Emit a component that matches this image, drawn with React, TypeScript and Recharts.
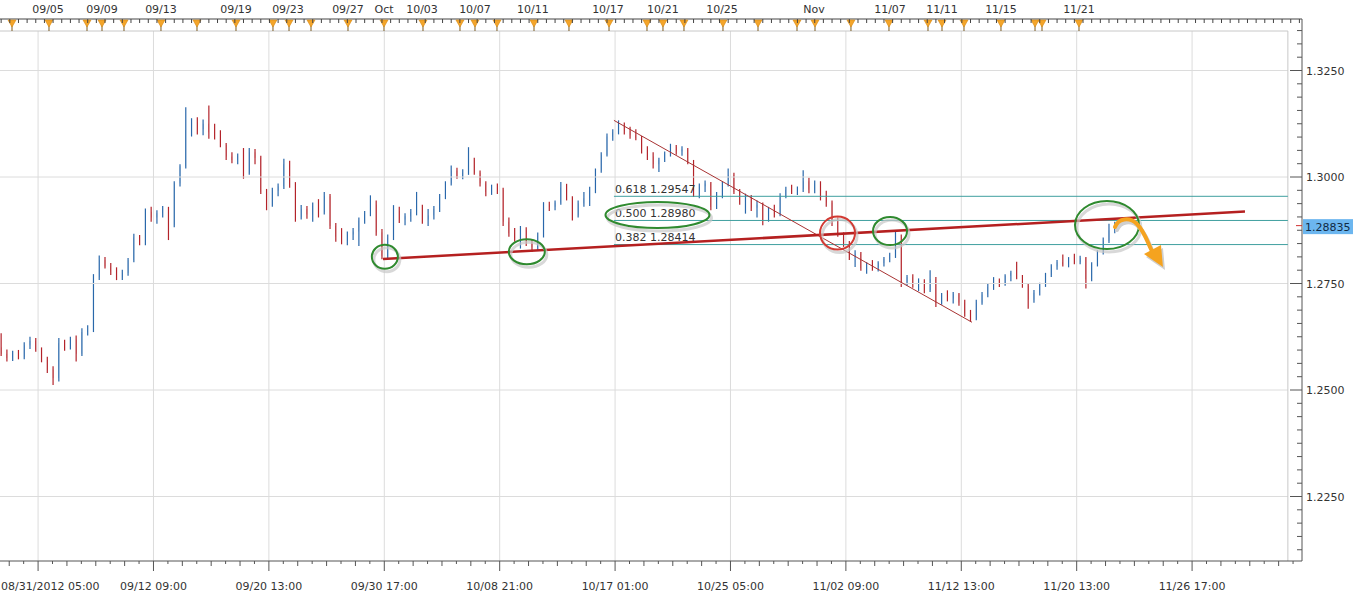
import React from "react";
import { Bar, ComposedChart, ReferenceDot, ReferenceLine, Scatter, XAxis, YAxis } from "recharts";

// one bar = [open, high, low, close]
const septemberBars: number[][] = [
  [1.2600, 1.2633, 1.2580, 1.2585], [1.2585, 1.2595, 1.2567, 1.2575], [1.2575, 1.2592, 1.2568, 1.2588],
  [1.2588, 1.2594, 1.2572, 1.2578], [1.2578, 1.2612, 1.2572, 1.2605], [1.2605, 1.2625, 1.2596, 1.2615],
  [1.2615, 1.2622, 1.2590, 1.2595], [1.2595, 1.2600, 1.2565, 1.2570], [1.2570, 1.2578, 1.2540, 1.2548],
  [1.2548, 1.2556, 1.2512, 1.2528], [1.2528, 1.2622, 1.2520, 1.2610], [1.2610, 1.2618, 1.2592, 1.2600],
  [1.2600, 1.2625, 1.2595, 1.2618], [1.2618, 1.2628, 1.2567, 1.2585], [1.2585, 1.2645, 1.2580, 1.2636],
  [1.2636, 1.2652, 1.2628, 1.2640], [1.2640, 1.2772, 1.2636, 1.2765], [1.2765, 1.2816, 1.2758, 1.2805],
  [1.2805, 1.2812, 1.2785, 1.2790], [1.2790, 1.2798, 1.2770, 1.2778], [1.2778, 1.2788, 1.2758, 1.2765],
  [1.2765, 1.2782, 1.2758, 1.2775], [1.2775, 1.2810, 1.2768, 1.2805], [1.2805, 1.2867, 1.2800, 1.2858],
  [1.2858, 1.2864, 1.2840, 1.2848], [1.2848, 1.2926, 1.2840, 1.2918], [1.2918, 1.2930, 1.2895, 1.2905],
  [1.2905, 1.2922, 1.2890, 1.2915], [1.2915, 1.2932, 1.2905, 1.2925], [1.2925, 1.2930, 1.2852, 1.2888],
  [1.2888, 1.2990, 1.2882, 1.2985], [1.2985, 1.3030, 1.2978, 1.3025], [1.3025, 1.3164, 1.3020, 1.3110],
  [1.3110, 1.3138, 1.3095, 1.3128], [1.3128, 1.3140, 1.3100, 1.3112], [1.3112, 1.3135, 1.3098, 1.3125],
  [1.3125, 1.3168, 1.3090, 1.3105], [1.3105, 1.3125, 1.3088, 1.3095], [1.3095, 1.3110, 1.3070, 1.3075],
  [1.3075, 1.3080, 1.3040, 1.3048], [1.3048, 1.3058, 1.3032, 1.3040], [1.3040, 1.3055, 1.3030, 1.3050],
  [1.3050, 1.3068, 1.2996, 1.3010], [1.3010, 1.3068, 1.3005, 1.3058], [1.3058, 1.3066, 1.3030, 1.3045],
  [1.3045, 1.3050, 1.2960, 1.2965], [1.2965, 1.2972, 1.2922, 1.2935], [1.2935, 1.2975, 1.2930, 1.2968],
  [1.2968, 1.2985, 1.2955, 1.2978], [1.2978, 1.3043, 1.2972, 1.3030], [1.3030, 1.3038, 1.2975, 1.2982],
  [1.2982, 1.2988, 1.2895, 1.2905], [1.2905, 1.2934, 1.2900, 1.2925], [1.2925, 1.2932, 1.2902, 1.2912],
  [1.2912, 1.2940, 1.2895, 1.2932], [1.2932, 1.2948, 1.2905, 1.2918], [1.2918, 1.2965, 1.2912, 1.2955],
  [1.2955, 1.2960, 1.2878, 1.2885], [1.2885, 1.2892, 1.2848, 1.2860], [1.2860, 1.2880, 1.2842, 1.2850],
  [1.2850, 1.2872, 1.2840, 1.2865], [1.2865, 1.2880, 1.2852, 1.2872], [1.2872, 1.2905, 1.2838, 1.2898],
  [1.2898, 1.2920, 1.2890, 1.2915], [1.2915, 1.2957, 1.2908, 1.2935], [1.2935, 1.2945, 1.2862, 1.2870],
  [1.2870, 1.2878, 1.2807, 1.2815],
];

const octoberBars: number[][] = [
  [1.2815, 1.2865, 1.2810, 1.2858], [1.2858, 1.2934, 1.2852, 1.2920], [1.2920, 1.2930, 1.2892, 1.2900],
  [1.2900, 1.2915, 1.2887, 1.2908], [1.2908, 1.2925, 1.2895, 1.2918], [1.2918, 1.2965, 1.2910, 1.2930],
  [1.2930, 1.2935, 1.2890, 1.2900], [1.2900, 1.2925, 1.2885, 1.2910], [1.2910, 1.2932, 1.2900, 1.2925],
  [1.2925, 1.2960, 1.2918, 1.2955], [1.2955, 1.2990, 1.2948, 1.2985], [1.2985, 1.3027, 1.2980, 1.3015],
  [1.3015, 1.3022, 1.2996, 1.3002], [1.3002, 1.3018, 1.2995, 1.3010], [1.3010, 1.3070, 1.3005, 1.3040],
  [1.3040, 1.3045, 1.3005, 1.3010], [1.3010, 1.3015, 1.2978, 1.2985], [1.2985, 1.2990, 1.2955, 1.2965],
  [1.2965, 1.2982, 1.2958, 1.2975], [1.2975, 1.2985, 1.2960, 1.2970], [1.2970, 1.2975, 1.2885, 1.2895],
  [1.2895, 1.2905, 1.2860, 1.2868], [1.2868, 1.2880, 1.2848, 1.2858], [1.2858, 1.2885, 1.2832, 1.2875],
  [1.2875, 1.2882, 1.2838, 1.2845], [1.2845, 1.2852, 1.2824, 1.2835], [1.2835, 1.2870, 1.2828, 1.2862],
  [1.2862, 1.2941, 1.2858, 1.2935], [1.2935, 1.2942, 1.2920, 1.2930], [1.2930, 1.2945, 1.2922, 1.2940],
  [1.2940, 1.2988, 1.2935, 1.2975], [1.2975, 1.2984, 1.2945, 1.2950], [1.2950, 1.2955, 1.2898, 1.2910],
  [1.2910, 1.2945, 1.2905, 1.2938], [1.2938, 1.2965, 1.2930, 1.2950], [1.2950, 1.2977, 1.2932, 1.2968],
  [1.2968, 1.3020, 1.2962, 1.3015], [1.3015, 1.3058, 1.3010, 1.3052], [1.3052, 1.3102, 1.3048, 1.3095],
  [1.3095, 1.3112, 1.3085, 1.3105], [1.3105, 1.3133, 1.3100, 1.3120], [1.3120, 1.3128, 1.3100, 1.3108],
  [1.3108, 1.3118, 1.3090, 1.3098], [1.3098, 1.3112, 1.3086, 1.3092], [1.3092, 1.3096, 1.3055, 1.3062],
  [1.3062, 1.3072, 1.3040, 1.3048], [1.3048, 1.3058, 1.3020, 1.3030], [1.3030, 1.3045, 1.3012, 1.3040],
  [1.3040, 1.3060, 1.3035, 1.3055], [1.3055, 1.3078, 1.3048, 1.3070], [1.3070, 1.3075, 1.3052, 1.3060],
  [1.3060, 1.3072, 1.3050, 1.3065], [1.3065, 1.3068, 1.3030, 1.3035], [1.3035, 1.3040, 1.2953, 1.2960],
  [1.2960, 1.2985, 1.2950, 1.2978], [1.2978, 1.2992, 1.2965, 1.2985], [1.2985, 1.2988, 1.2922, 1.2930],
  [1.2930, 1.2965, 1.2925, 1.2958], [1.2958, 1.2990, 1.2950, 1.2985], [1.2985, 1.3020, 1.2978, 1.3005],
  [1.3005, 1.3010, 1.2960, 1.2965], [1.2965, 1.2972, 1.2935, 1.2942], [1.2942, 1.2961, 1.2914, 1.2950],
  [1.2950, 1.2958, 1.2920, 1.2928], [1.2928, 1.2945, 1.2905, 1.2935], [1.2935, 1.2940, 1.2887, 1.2898],
  [1.2898, 1.2930, 1.2895, 1.2922], [1.2922, 1.2935, 1.2905, 1.2912], [1.2912, 1.2962, 1.2908, 1.2955],
  [1.2955, 1.2977, 1.2950, 1.2970], [1.2970, 1.2982, 1.2960, 1.2965], [1.2965, 1.2978, 1.2958, 1.2972],
  [1.2972, 1.3016, 1.2965, 1.2990], [1.2990, 1.2998, 1.2962, 1.2970],
];

const novemberBars: number[][] = [
  [1.2970, 1.2992, 1.2962, 1.2985], [1.2985, 1.2990, 1.2945, 1.2952], [1.2952, 1.2968, 1.2930, 1.2940],
  [1.2940, 1.2945, 1.2885, 1.2895], [1.2895, 1.2905, 1.2860, 1.2865], [1.2865, 1.2870, 1.2836, 1.2842],
  [1.2842, 1.2850, 1.2805, 1.2812], [1.2812, 1.2828, 1.2789, 1.2820], [1.2820, 1.2824, 1.2780, 1.2786],
  [1.2786, 1.2800, 1.2773, 1.2792], [1.2792, 1.2805, 1.2780, 1.2788], [1.2788, 1.2802, 1.2778, 1.2798],
  [1.2798, 1.2812, 1.2790, 1.2808], [1.2808, 1.2822, 1.2800, 1.2818], [1.2818, 1.2871, 1.2810, 1.2860],
  [1.2860, 1.2865, 1.2742, 1.2752], [1.2752, 1.2770, 1.2745, 1.2765], [1.2765, 1.2772, 1.2740, 1.2748],
  [1.2748, 1.2762, 1.2732, 1.2755], [1.2755, 1.2760, 1.2727, 1.2735], [1.2735, 1.2781, 1.2730, 1.2760],
  [1.2760, 1.2765, 1.2695, 1.2705], [1.2705, 1.2728, 1.2700, 1.2722], [1.2722, 1.2734, 1.2708, 1.2715],
  [1.2715, 1.2730, 1.2703, 1.2725], [1.2725, 1.2728, 1.2698, 1.2705], [1.2705, 1.2712, 1.2672, 1.2680],
  [1.2680, 1.2688, 1.2660, 1.2668], [1.2668, 1.2712, 1.2664, 1.2705], [1.2705, 1.2730, 1.2700, 1.2724],
  [1.2724, 1.2750, 1.2718, 1.2742], [1.2742, 1.2765, 1.2735, 1.2755], [1.2755, 1.2762, 1.2742, 1.2748],
  [1.2748, 1.2772, 1.2745, 1.2768], [1.2768, 1.2780, 1.2755, 1.2775], [1.2775, 1.2801, 1.2760, 1.2765],
  [1.2765, 1.2770, 1.2740, 1.2745], [1.2745, 1.2750, 1.2691, 1.2712], [1.2712, 1.2735, 1.2705, 1.2728],
  [1.2728, 1.2752, 1.2722, 1.2748], [1.2748, 1.2775, 1.2742, 1.2770], [1.2770, 1.2795, 1.2765, 1.2790],
  [1.2790, 1.2805, 1.2782, 1.2800], [1.2800, 1.2818, 1.2790, 1.2795], [1.2795, 1.2812, 1.2788, 1.2808],
  [1.2808, 1.2820, 1.2795, 1.2800], [1.2800, 1.2815, 1.2795, 1.2810], [1.2810, 1.2812, 1.2738, 1.2760],
  [1.2760, 1.2800, 1.2755, 1.2795], [1.2795, 1.2828, 1.2790, 1.2822], [1.2822, 1.2858, 1.2818, 1.2850],
  [1.2850, 1.2890, 1.2845, 1.2875], [1.2875, 1.2895, 1.2868, 1.28835],
];

const bottomLabels = [
  "08/31/2012 05:00", "09/12 09:00", "09/20 13:00", "09/30 17:00", "10/08 21:00", "10/17 01:00",
  "10/25 05:00", "11/02 09:00", "11/12 13:00", "11/20 13:00", "11/26 17:00",
];

const topLabels = [
  "09/05", "09/09", "09/13", "09/19", "09/23", "09/27", "Oct", "10/03", "10/07", "10/11",
  "10/17", "10/21", "10/25", "Nov", "11/07", "11/11", "11/15", "11/21",
];
const topLabelAt = [
  8.12, 17.48, 27.7, 40.7, 49.71, 60.11, 66.35, 72.94, 82.12, 92.17,
  105.17, 114.7, 124.93, 140.87, 154.05, 163.06, 173.28, 186.8,
];

// calendar event markers on the top ruler
const eventAt = [
  1.88, 8.29, 14.88, 17.48, 21.29, 27.7, 33.94, 40.7, 47.11, 49.89, 53.7, 60.11, 66.35, 73.11,
  79.52, 82.12, 85.93, 92.35, 98.41, 105.35, 111.93, 114.7, 118.34, 125.1, 131.17, 137.93,
  141.05, 147.28, 153.87, 160.63, 163.06, 166.87, 173.28, 179.18, 180.39, 186.8,
];

const fibRatios = ["0.618", "0.500", "0.382"];
const fibPrices = [1.29547, 1.2898, 1.28414];
const lastPrice = 1.28835;

const X_MIN = -0.2;
const X_MAX = 225.45;
const X_FRAME = 223.0;
const Y_MIN = 1.20986;
const Y_MAX = 1.33709;
const Y_FRAME = 1.33427;
const FIB_START = 106.2;

const BLUE = "#2a68ab";
const RED = "#b3232a";
const GREEN = "#2f8a2f";
const FONT = "DejaVu Sans, Verdana, sans-serif";

const bars = [...septemberBars, ...octoberBars, ...novemberBars].map((b, i) => ({
  i,
  open: b[0],
  high: b[1],
  low: b[2],
  close: b[3],
}));

const bottomTicks: number[] = [];
for (let m = -2; m <= 87; m++) bottomTicks.push(Number((6.4 + 2.5 * m).toFixed(3)));

const rulerTicks: number[] = [];
for (let v = 0; v <= 225; v += 1.5) rulerTicks.push(v);

const priceTicks: number[] = [];
for (let n = 0; n < 41; n++) {
  const v = Number((1.2125 + n * 0.003125).toFixed(6));
  if (v <= Y_MAX) priceTicks.push(v);
}
const gridPrices = [1.225, 1.25, 1.275, 1.3, 1.325];
const gridIdx = bottomLabels.map((_, k) => 6.4 + 20 * k);

const events = eventAt.map((i) => ({ i, y: Y_MAX }));

const rings = [
  { i: 66.5, p: 1.28129, rx: 13, ry: 12, color: GREEN },
  { i: 91.1, p: 1.28246, rx: 18, ry: 12.5, color: GREEN },
  { i: 113.75, p: 1.29108, rx: 52, ry: 13, color: GREEN },
  { i: 144.95, p: 1.28685, rx: 17.5, ry: 16.5, color: "#d23a33" },
  { i: 154.05, p: 1.28732, rx: 17, ry: 14, color: GREEN },
];
const bigRing = { i: 191.65, p: 1.28873, rx: 32, ry: 24 };

const Candle = (props: any) => {
  const { x, y, width, height, payload } = props;
  if (x == null || !payload) return null;
  const top = Math.min(y, y + height);
  const h = Math.abs(height);
  const range = payload.high - payload.low;
  const k = range > 0 ? h / range : 0;
  const yo = top + (payload.high - payload.open) * k;
  const yc = top + (payload.high - payload.close) * k;
  const color = payload.close >= payload.open ? BLUE : RED;
  const cx = x + width / 2;
  return (
    <g>
      <line x1={cx} x2={cx} y1={top} y2={top + h} stroke={color} strokeWidth={1.2} />
      <rect x={x} y={Math.min(yo, yc)} width={width} height={Math.max(1.5, Math.abs(yc - yo))} fill={color} />
    </g>
  );
};

const BottomTick = (props: any) => {
  const { x, y, payload } = props;
  const m = Math.round((payload.value - 6.4) / 2.5);
  const major = ((m % 8) + 8) % 8 === 0;
  if (!major) {
    const len = m % 2 === 0 ? 5 : 3;
    return <line x1={x} x2={x} y1={y} y2={y + len} stroke="#555" />;
  }
  const k = m / 8;
  return (
    <g>
      <line x1={x} x2={x} y1={y} y2={y + 10} stroke="#555" />
      <text
        x={k === 0 ? 1 : x}
        y={y + 29}
        textAnchor={k === 0 ? "start" : "middle"}
        fontSize={11}
        fontFamily={FONT}
        fill="#333"
      >
        {bottomLabels[k]}
      </text>
    </g>
  );
};

const TopTick = (props: any) => {
  const { x, y, payload } = props;
  const k = topLabelAt.findIndex((v) => Math.abs(v - payload.value) < 1e-6);
  if (k >= 0) {
    return (
      <text x={x} y={y - 6} textAnchor="middle" fontSize={11} fontFamily={FONT} fill="#333">
        {topLabels[k]}
      </text>
    );
  }
  return <line x1={x} x2={x} y1={y} y2={y + 4} stroke="#444" />;
};

const PriceTick = (props: any) => {
  const { x, y, payload } = props;
  const v = payload.value;
  const q = (v - 1.225) / 0.025;
  const major = Math.abs(q - Math.round(q)) < 1e-6;
  return (
    <g>
      <line x1={x - (major ? 12 : 5)} x2={x} y1={y} y2={y} stroke="#555" />
      {major && (
        <text x={x + 4} y={y + 4} fontSize={11} fontFamily={FONT} fill="#333">
          {v.toFixed(4)}
        </text>
      )}
    </g>
  );
};

const EventMark = (props: any) => {
  const { cx, cy } = props;
  return (
    <g>
      <line x1={cx} x2={cx} y1={cy + 6} y2={cy + 12} stroke="#7a5a20" strokeWidth={1} />
      <polygon
        points={`${cx - 4},${cy + 1} ${cx + 4},${cy + 1} ${cx},${cy + 8}`}
        fill="#f4a52a"
        stroke="#d88a10"
        strokeWidth={0.6}
      />
    </g>
  );
};

const ringShape = (rx: number, ry: number, color: string) => (p: any) => (
  <g>
    <ellipse cx={p.cx + 2} cy={p.cy + 3} rx={rx} ry={ry} fill="none" stroke="#c8c8c8" strokeWidth={3} opacity={0.7} />
    <ellipse cx={p.cx} cy={p.cy} rx={rx} ry={ry} fill="none" stroke={color} strokeWidth={2} />
  </g>
);

const arrowShape = (p: any) => {
  const { cx, cy } = p;
  const shaft = `M${cx + 8},${cy + 2} C${cx + 11},${cy - 6} ${cx + 22},${cy - 9} ${cx + 30},${cy - 1} S${cx + 41},${cy + 19} ${cx + 45},${cy + 26}`;
  const head = `${cx + 37},${cy + 29} ${cx + 54},${cy + 20} ${cx + 56},${cy + 42}`;
  return (
    <g>
      <ellipse cx={cx + 2} cy={cy + 3} rx={bigRing.rx} ry={bigRing.ry} fill="none" stroke="#c8c8c8" strokeWidth={3} opacity={0.7} />
      <ellipse cx={cx} cy={cy} rx={bigRing.rx} ry={bigRing.ry} fill="none" stroke={GREEN} strokeWidth={2} />
      <path d={shaft} transform="translate(2,3)" fill="none" stroke="#cfcfcf" strokeWidth={4} strokeLinecap="round" />
      <polygon points={head} transform="translate(2,3)" fill="#cfcfcf" />
      <path d={shaft} fill="none" stroke="#f5a31f" strokeWidth={4} strokeLinecap="round" />
      <polygon points={head} fill="#f5a31f" />
    </g>
  );
};

const fibLabel = (k: number) => (p: any) => (
  <text x={p.cx + 1} y={p.cy - 3.5} fontSize={11} fontFamily={FONT} fill="#333">
    {`${fibRatios[k]} ${fibPrices[k].toFixed(5)}`}
  </text>
);

const priceBadge = (p: any) => (
  <g>
    <line x1={p.cx - 6} x2={p.cx} y1={p.cy - 1} y2={p.cy - 1} stroke="#d03030" />
    <rect x={p.cx + 1} y={p.cy - 7.5} width={50} height={15} fill="#6cb6ef" />
    <text x={p.cx + 3} y={p.cy + 4} fontSize={11} fontFamily={FONT} fill="#102a44">
      {lastPrice.toFixed(5)}
    </text>
  </g>
);

export default function App() {
  return (
    <div style={{ position: "absolute", left: 0, top: 0, width: 1360, height: 598, background: "#fff" }}>
      <ComposedChart width={1360} height={598} data={bars} margin={{ top: 0, right: 0, bottom: 0, left: 0 }}>
        <XAxis
          xAxisId="b"
          type="number"
          dataKey="i"
          domain={[X_MIN, X_MAX]}
          allowDataOverflow
          ticks={bottomTicks}
          interval={0}
          tick={<BottomTick />}
          tickLine={false}
          tickSize={0}
          tickMargin={0}
          axisLine={{ stroke: "#555" }}
          height={37}
        />
        <XAxis
          xAxisId="t"
          orientation="top"
          type="number"
          dataKey="i"
          domain={[X_MIN, X_MAX]}
          allowDataOverflow
          ticks={[...rulerTicks, ...topLabelAt]}
          interval={0}
          tick={<TopTick />}
          tickLine={false}
          tickSize={0}
          tickMargin={0}
          axisLine={{ stroke: "#444" }}
          height={19}
        />
        <YAxis
          yAxisId="p"
          orientation="right"
          type="number"
          domain={[Y_MIN, Y_MAX]}
          allowDataOverflow
          ticks={priceTicks}
          interval={0}
          tick={<PriceTick />}
          tickLine={false}
          tickSize={0}
          tickMargin={0}
          axisLine={{ stroke: "#555" }}
          width={58}
        />

        {gridPrices.map((p) => (
          <ReferenceLine
            key={`h${p}`}
            xAxisId="b"
            yAxisId="p"
            segment={[{ x: X_MIN, y: p }, { x: X_FRAME, y: p }]}
            stroke="#dcdcdc"
          />
        ))}
        {gridIdx.map((v) => (
          <ReferenceLine
            key={`v${v}`}
            xAxisId="b"
            yAxisId="p"
            segment={[{ x: v, y: Y_FRAME }, { x: v, y: Y_MIN }]}
            stroke="#dcdcdc"
          />
        ))}
        <ReferenceLine xAxisId="b" yAxisId="p" segment={[{ x: X_MIN, y: Y_FRAME }, { x: X_FRAME, y: Y_FRAME }]} stroke="#c8c8c8" />
        <ReferenceLine xAxisId="b" yAxisId="p" segment={[{ x: X_FRAME, y: Y_FRAME }, { x: X_FRAME, y: Y_MIN }]} stroke="#c8c8c8" />

        {fibPrices.map((p) => (
          <ReferenceLine
            key={`f${p}`}
            xAxisId="b"
            yAxisId="p"
            segment={[{ x: FIB_START, y: p }, { x: X_FRAME, y: p }]}
            stroke="#3f9f9f"
          />
        ))}

        <Bar
          xAxisId="b"
          yAxisId="p"
          dataKey={(d: any) => [d.low, d.high]}
          barSize={4}
          shape={<Candle />}
          isAnimationActive={false}
        />

        <Scatter xAxisId="b" yAxisId="p" data={events} dataKey="y" shape={<EventMark />} isAnimationActive={false} />

        <ReferenceLine
          xAxisId="b"
          yAxisId="p"
          segment={[{ x: 106.2, y: 1.3133 }, { x: 168.26, y: 1.2659 }]}
          stroke="#a83232"
          strokeWidth={1}
        />
        <ReferenceLine
          xAxisId="b"
          yAxisId="p"
          segment={[{ x: 66.18, y: 1.28075 }, { x: 215.57, y: 1.2919 }]}
          stroke="#b52020"
          strokeWidth={2.5}
        />

        {fibPrices.map((p, k) => (
          <ReferenceDot key={`fl${p}`} xAxisId="b" yAxisId="p" x={FIB_START} y={p} shape={fibLabel(k)} />
        ))}
        {rings.map((r) => (
          <ReferenceDot key={`r${r.i}`} xAxisId="b" yAxisId="p" x={r.i} y={r.p} shape={ringShape(r.rx, r.ry, r.color)} />
        ))}
        <ReferenceDot xAxisId="b" yAxisId="p" x={bigRing.i} y={bigRing.p} shape={arrowShape} />
        <ReferenceDot xAxisId="b" yAxisId="p" x={X_MAX} y={lastPrice} shape={priceBadge} />
      </ComposedChart>
    </div>
  );
}
